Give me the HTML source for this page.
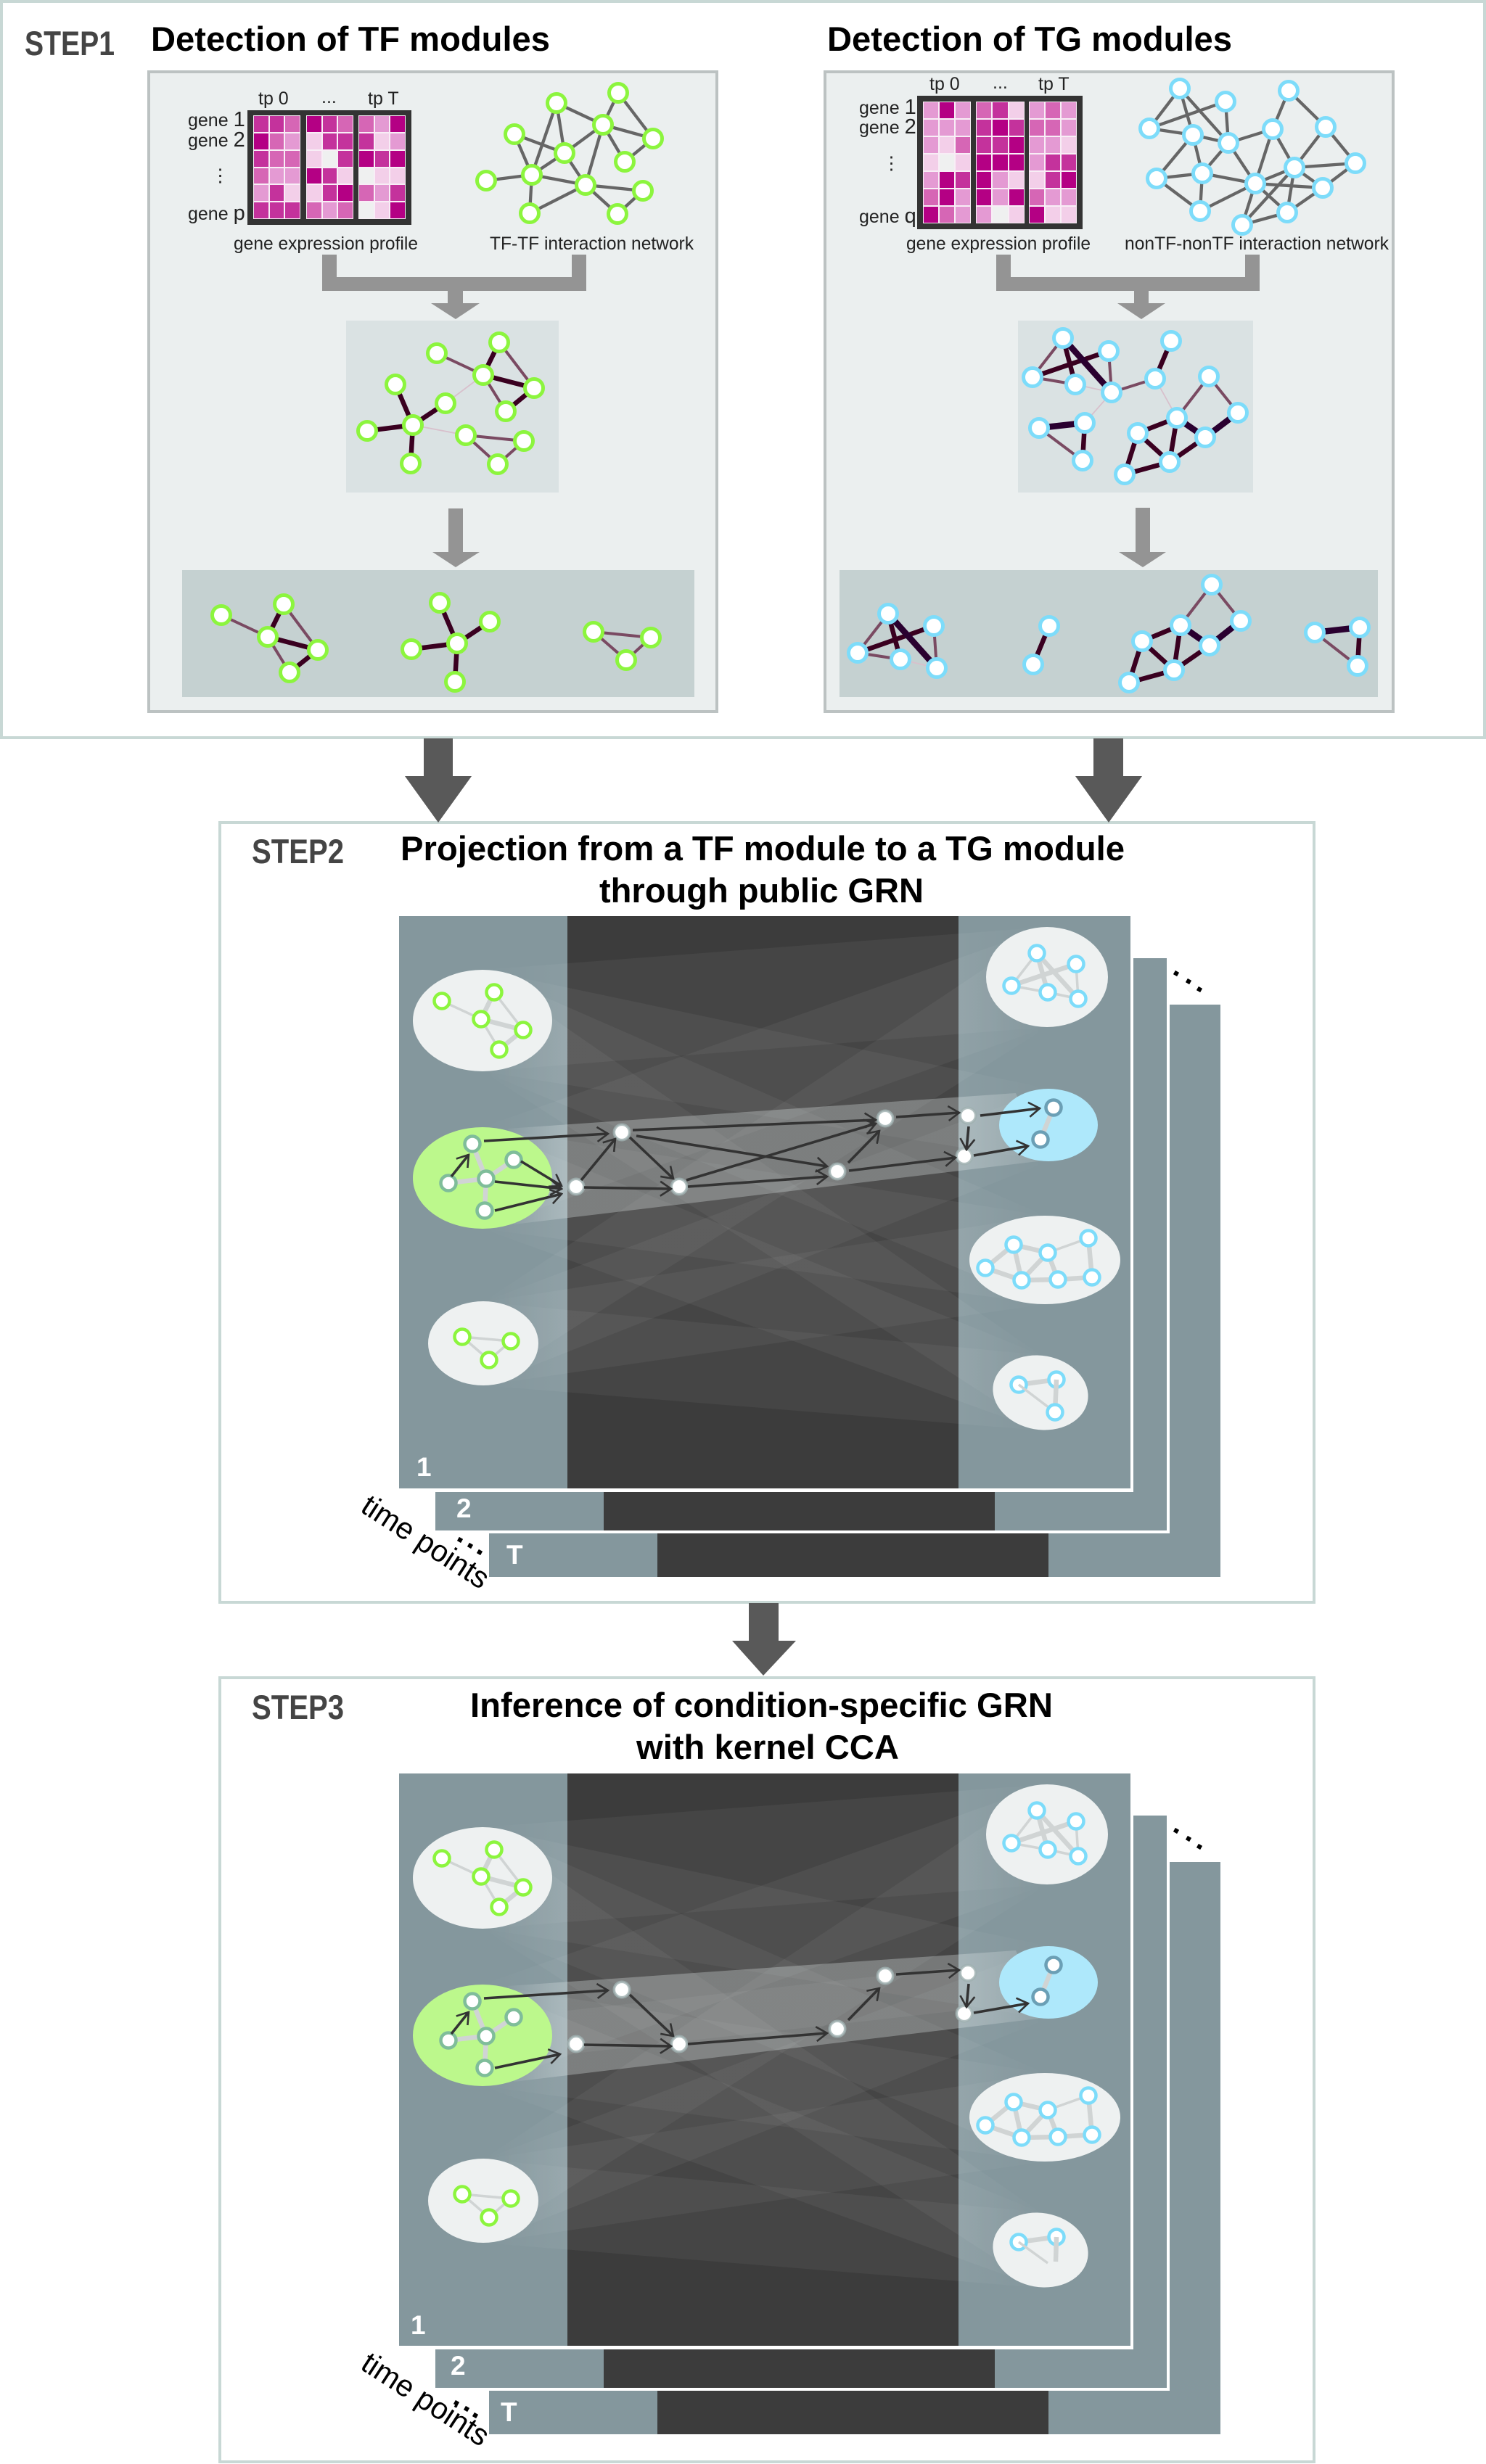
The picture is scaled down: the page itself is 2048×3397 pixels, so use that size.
<!DOCTYPE html>
<html><head><meta charset="utf-8"><title>GRN inference workflow</title>
<style>
html,body{margin:0;padding:0;background:#fff}
#w{position:relative;width:2048px;height:3397px;overflow:hidden;background:#fff}
svg{position:absolute;left:0;top:0}
text{font-family:"Liberation Sans",sans-serif;fill:#000}
.t{font-weight:700;font-size:47px}
.s{font-weight:700;font-size:47px;fill:#444}
.n{font-size:25px;fill:#222}
.w{font-weight:700;font-size:37px;fill:#fff}
.e{fill:none;stroke:#666;stroke-width:4.3}
.k{fill:none;stroke:#3a0020;stroke-width:6.5}
.v{fill:none;stroke:#2a0030;stroke-width:8.5}
.m{fill:none;stroke:#7a4a62;stroke-width:4}
.h{fill:none;stroke:#d8c0cc;stroke-width:1.8}
.gy{fill:none;stroke:#d0d4d4;stroke-width:3.5}
.gt{fill:none;stroke:#d0d4d4;stroke-width:6.5}
.g{r:12.5px;fill:#fff;stroke:#8cf53e;stroke-width:5}
.b{r:12.5px;fill:#fff;stroke:#7ddcfa;stroke-width:5}
.g2{r:10.5px;fill:#fff;stroke:#8cf53e;stroke-width:4.5}
.b2{r:10.5px;fill:#fff;stroke:#7ddcfa;stroke-width:4.5}
.q{r:10.5px;fill:#fff;stroke:#7fbd9a;stroke-width:4.5}
.r{r:10.5px;fill:#fff;stroke:#6b9fb5;stroke-width:4.5}
.p{r:10.7px;fill:#fff;stroke:#9fb0b0;stroke-width:3.6;stroke-opacity:.8}
.a{stroke:#333;stroke-width:3.6;fill:none;marker-end:url(#ar)}
.d{fill:#000}
.hm{position:absolute;display:grid;grid-template-columns:repeat(3,1fr)}
.hm i{display:block;box-sizing:border-box;border:.5px solid #f8eef6}
.A{background:#b40084}.B{background:#c4329c}.C{background:#d666b5}.D{background:#e49ad3}.E{background:#f3cfe9}.F{background:#eff0f0}
</style></head><body><div id="w">
<svg width="2048" height="3397" viewBox="0 0 2048 3397" xmlns="http://www.w3.org/2000/svg">
<defs>
<marker id="ar" viewBox="-18 -12 20 24" refX="0" refY="0" markerWidth="20" markerHeight="24" orient="auto" markerUnits="userSpaceOnUse"><path d="M-15 -10L0 0L-15 10" fill="none" stroke="#333" stroke-width="2.6"/></marker>
<linearGradient id="bg" gradientUnits="userSpaceOnUse" x1="665" y1="0" x2="1443" y2="0"><stop offset="0" stop-color="#fff" stop-opacity="0"/><stop offset=".15" stop-color="#fff" stop-opacity=".047"/><stop offset=".85" stop-color="#fff" stop-opacity=".047"/><stop offset="1" stop-color="#fff" stop-opacity="0"/></linearGradient>
<linearGradient id="bm" gradientUnits="userSpaceOnUse" x1="690" y1="0" x2="1440" y2="0"><stop offset="0" stop-color="#fff" stop-opacity="0"/><stop offset=".12" stop-color="#e8f0f0" stop-opacity=".3"/><stop offset=".85" stop-color="#e8f0f0" stop-opacity=".3"/><stop offset="1" stop-color="#fff" stop-opacity=".1"/></linearGradient>
<g id="base">
<rect x="674" y="1385" width="1008" height="789" fill="#84979d"/><rect x="906" y="1385" width="539" height="789" fill="#3c3c3c"/>
<rect x="600" y="1321" width="1012" height="793" fill="#fff"/><rect x="600" y="1321" width="1008" height="789" fill="#84979d"/><rect x="832" y="1321" width="539" height="789" fill="#3c3c3c"/>
<rect x="550" y="1263" width="1012" height="794" fill="#fff"/><rect x="550" y="1263" width="1008" height="789" fill="#84979d"/><rect x="782" y="1263" width="539" height="789" fill="#3c3c3c"/>
<g fill="url(#bg)">
<polygon points="665,1337 665,1477 1443,1416 1443,1278"/>
<polygon points="665,1337 665,1477 1445,1601 1445,1501"/>
<polygon points="665,1337 665,1477 1440,1798 1440,1676"/>
<polygon points="665,1337 665,1477 1434,1972 1434,1868"/>
<polygon points="665,1554 665,1694 1443,1416 1443,1278"/>
<polygon points="665,1554 665,1694 1440,1798 1440,1676"/>
<polygon points="665,1554 665,1694 1434,1972 1434,1868"/>
<polygon points="666,1795 666,1910 1443,1416 1443,1278"/>
<polygon points="666,1795 666,1910 1445,1601 1445,1501"/>
<polygon points="666,1795 666,1910 1440,1798 1440,1676"/>
<polygon points="666,1795 666,1910 1434,1972 1434,1868"/>
</g>
<ellipse cx="665" cy="1407" rx="96" ry="70" fill="#eef1f1"/>
<path class="gy" d="M609 1380L663 1405M681 1368L721 1420M663 1405L688 1447"/><path class="gt" d="M681 1368L663 1405M663 1405L721 1420M721 1420L688 1447"/>
<circle class="g2" cx="609" cy="1380"/><circle class="g2" cx="681" cy="1368"/><circle class="g2" cx="663" cy="1405"/><circle class="g2" cx="721" cy="1420"/><circle class="g2" cx="688" cy="1447"/>
<ellipse cx="666" cy="1852" rx="76" ry="58" fill="#eef1f1"/>
<path class="gy" d="M637 1843L704 1849M637 1843L674 1875"/><path class="gy" d="M704 1849L674 1875"/>
<circle class="g2" cx="637" cy="1843"/><circle class="g2" cx="704" cy="1849"/><circle class="g2" cx="674" cy="1875"/>
<ellipse cx="1443" cy="1347" rx="84" ry="69" fill="#eef1f1"/>
<path class="gy" d="M1429 1314L1394 1359M1483 1329L1486 1377M1444 1368L1486 1377"/><path class="gt" d="M1429 1314L1444 1368M1429 1314L1486 1377M1483 1329L1394 1359"/><path class="gy" d="M1394 1359L1444 1368"/>
<circle class="b2" cx="1429" cy="1314"/><circle class="b2" cx="1483" cy="1329"/><circle class="b2" cx="1394" cy="1359"/><circle class="b2" cx="1444" cy="1368"/><circle class="b2" cx="1486" cy="1377"/>
<ellipse cx="1440" cy="1737" rx="104" ry="61" fill="#eef1f1"/>
<path class="gt" d="M1358 1748L1397 1716M1397 1716L1444 1727M1500 1707L1505 1761M1505 1761L1458 1764M1458 1764L1408 1765M1408 1765L1358 1748M1397 1716L1408 1765M1408 1765L1444 1727M1444 1727L1458 1764"/><path class="gy" d="M1444 1727L1500 1707"/>
<circle class="b2" cx="1397" cy="1716"/><circle class="b2" cx="1444" cy="1727"/><circle class="b2" cx="1500" cy="1707"/><circle class="b2" cx="1358" cy="1748"/><circle class="b2" cx="1408" cy="1765"/><circle class="b2" cx="1458" cy="1764"/><circle class="b2" cx="1505" cy="1761"/>
<ellipse cx="1434" cy="1920" rx="66" ry="51" fill="#eef1f1" transform="rotate(10 1434 1920)"/>
<path class="gt" d="M1404 1909L1456 1902"/>
<circle class="b2" cx="1404" cy="1909"/><circle class="b2" cx="1456" cy="1902"/>
</g>
<g id="hi">
<ellipse cx="665" cy="1624" rx="96" ry="70" fill="#bcf88c"/>
<ellipse cx="1445" cy="1551" rx="68" ry="50" fill="#aee8fb"/>
<path class="gt" d="M651 1577L670 1625M618 1631L670 1625M670 1625L708 1599M670 1625L668 1669M1452 1527L1434 1571"/>
<circle class="q" cx="651" cy="1577"/><circle class="q" cx="618" cy="1631"/><circle class="q" cx="670" cy="1625"/><circle class="q" cx="708" cy="1599"/><circle class="q" cx="668" cy="1669"/>
<circle class="r" cx="1452" cy="1527"/><circle class="r" cx="1434" cy="1571"/>
</g>
<g id="pts">
<circle class="p" cx="857" cy="1561"/><circle class="p" cx="794" cy="1636"/><circle class="p" cx="936" cy="1636"/><circle class="p" cx="1220" cy="1542"/><circle class="p" cx="1154" cy="1615"/><circle class="p" cx="1334" cy="1538"/><circle class="p" cx="1329" cy="1594"/>
</g>
</defs>

<!-- STEP 1 -->
<rect x="2" y="2" width="2044" height="1015" fill="#fff" stroke="#c8d8d5" stroke-width="4"/>
<text class="s" x="34" y="76" textLength="124" lengthAdjust="spacingAndGlyphs">STEP1</text>
<text class="t" x="208" y="70" textLength="550" lengthAdjust="spacingAndGlyphs">Detection of TF modules</text>
<text class="t" x="1140" y="70" textLength="558" lengthAdjust="spacingAndGlyphs">Detection of TG modules</text>
<rect x="205" y="99" width="783" height="882" fill="#ebefef" stroke="#bcc2c2" stroke-width="4"/>
<rect x="1137" y="99" width="783" height="882" fill="#ebefef" stroke="#bcc2c2" stroke-width="4"/>

<!-- TF heat labels -->
<rect x="341" y="152" width="226" height="158" fill="#333"/>
<text class="n" x="356" y="144">tp 0</text><text class="n" x="443" y="142">...</text><text class="n" x="507" y="144">tp T</text>
<text class="n" x="259" y="174">gene <tspan font-size="29">1</tspan></text>
<text class="n" x="259" y="202">gene <tspan font-size="29">2</tspan></text>
<text class="n" x="291" y="250">⋮</text>
<text class="n" x="259" y="303">gene <tspan font-size="29">p</tspan></text>
<text class="n" x="322" y="344" textLength="254" lengthAdjust="spacingAndGlyphs">gene expression profile</text>
<text class="n" x="675" y="344" textLength="281" lengthAdjust="spacingAndGlyphs">TF-TF interaction network</text>

<path class="e" d="M767 142L831 172M767 142L778 211M767 142L733 241M852 128L831 172M852 128L900 191M831 172L900 191M831 172L778 211M831 172L861 223M831 172L807 255M900 191L861 223M709 185L778 211M709 185L733 241M778 211L733 241M778 211L807 255M670 249L733 241M733 241L807 255M733 241L730 294M807 255L730 294M807 255L886 263M807 255L851 295M886 263L851 295"/>
<g>
<circle class="g" cx="767" cy="142"/><circle class="g" cx="852" cy="128"/><circle class="g" cx="831" cy="172"/><circle class="g" cx="900" cy="191"/><circle class="g" cx="709" cy="185"/><circle class="g" cx="778" cy="211"/><circle class="g" cx="861" cy="223"/><circle class="g" cx="670" cy="249"/><circle class="g" cx="733" cy="241"/><circle class="g" cx="807" cy="255"/><circle class="g" cx="886" cy="263"/><circle class="g" cx="730" cy="294"/><circle class="g" cx="851" cy="295"/>
</g>
<path fill="#949494" d="M444 351H464V382H788V351H808V401H638V418H661L628 440L594 418H617V401H444Z"/>
<rect x="477" y="442" width="293" height="237" fill="#dae2e3"/>
<path class="h" d="M666 517L614 556M569 586L642 600"/>
<path class="m" d="M602 487L666 517M688 472L736 535M666 517L697 567M642 600L722 608M642 600L686 640M722 608L686 640"/>
<path class="k" d="M688 472L666 517M666 517L736 535M736 535L697 567M545 530L569 586M569 586L614 556M569 586L506 594M569 586L566 639"/>
<circle class="g" cx="602" cy="487"/><circle class="g" cx="688" cy="472"/><circle class="g" cx="666" cy="517"/><circle class="g" cx="736" cy="535"/><circle class="g" cx="697" cy="567"/><circle class="g" cx="614" cy="556"/><circle class="g" cx="545" cy="530"/><circle class="g" cx="569" cy="586"/><circle class="g" cx="506" cy="594"/><circle class="g" cx="566" cy="639"/><circle class="g" cx="642" cy="600"/><circle class="g" cx="722" cy="608"/><circle class="g" cx="686" cy="640"/>
<path fill="#949494" d="M618 701H638V761H661L628 782L596 761H618Z"/>
<rect x="251" y="786" width="706" height="175" fill="#c5d1d1"/>
<path class="m" d="M305 848L369 878M391 833L438 896M369 878L399 927M818 871L897 879M818 871L863 910M897 879L863 910"/>
<path class="k" d="M391 833L369 878M369 878L438 896M438 896L399 927M630 887L606 831M630 887L675 857M630 887L567 895M630 887L627 940"/>
<circle class="g" cx="305" cy="848"/><circle class="g" cx="391" cy="833"/><circle class="g" cx="369" cy="878"/><circle class="g" cx="438" cy="896"/><circle class="g" cx="399" cy="927"/>
<circle class="g" cx="630" cy="887"/><circle class="g" cx="606" cy="831"/><circle class="g" cx="675" cy="857"/><circle class="g" cx="567" cy="895"/><circle class="g" cx="627" cy="940"/>
<circle class="g" cx="818" cy="871"/><circle class="g" cx="897" cy="879"/><circle class="g" cx="863" cy="910"/>

<!-- TG side -->
<rect x="1264" y="132" width="228" height="184" fill="#333"/>
<text class="n" x="1281" y="124">tp 0</text><text class="n" x="1368" y="122">...</text><text class="n" x="1431" y="124">tp T</text>
<text class="n" x="1184" y="157">gene <tspan font-size="29">1</tspan></text>
<text class="n" x="1184" y="184">gene <tspan font-size="29">2</tspan></text>
<text class="n" x="1216" y="233">⋮</text>
<text class="n" x="1184" y="307">gene <tspan font-size="29">q</tspan></text>
<text class="n" x="1249" y="344" textLength="254" lengthAdjust="spacingAndGlyphs">gene expression profile</text>
<text class="n" x="1550" y="344" textLength="364" lengthAdjust="spacingAndGlyphs">nonTF-nonTF interaction network</text>

<path class="e" d="M1626 122L1584 177M1626 122L1644 186M1626 122L1693 197M1689 140L1584 177M1689 140L1693 197M1776 125L1754 178M1776 125L1827 175M1584 177L1644 186M1644 186L1693 197M1644 186L1594 246M1644 186L1657 239M1693 197L1754 178M1693 197L1657 239M1693 197L1730 253M1754 178L1784 231M1754 178L1730 253M1827 175L1784 231M1827 175L1868 225M1868 225L1784 231M1868 225L1823 259M1784 231L1730 253M1784 231L1774 293M1784 231L1712 310M1594 246L1657 239M1594 246L1654 291M1657 239L1730 253M1657 239L1654 291M1730 253L1654 291M1730 253L1823 259M1730 253L1774 293M1730 253L1712 310M1823 259L1774 293M1774 293L1712 310M1784 231L1823 259"/>
<circle class="b" cx="1626" cy="122"/><circle class="b" cx="1689" cy="140"/><circle class="b" cx="1776" cy="125"/><circle class="b" cx="1584" cy="177"/><circle class="b" cx="1644" cy="186"/><circle class="b" cx="1693" cy="197"/><circle class="b" cx="1754" cy="178"/><circle class="b" cx="1827" cy="175"/><circle class="b" cx="1868" cy="225"/><circle class="b" cx="1784" cy="231"/><circle class="b" cx="1594" cy="246"/><circle class="b" cx="1657" cy="239"/><circle class="b" cx="1730" cy="253"/><circle class="b" cx="1823" cy="259"/><circle class="b" cx="1654" cy="291"/><circle class="b" cx="1774" cy="293"/><circle class="b" cx="1712" cy="310"/>
<path fill="#949494" d="M1373 351H1393V382H1716V351H1736V401H1583V418H1606L1573 440L1540 418H1563V401H1373Z"/>
<rect x="1403" y="442" width="324" height="237" fill="#dae2e3"/>
<path class="h" d="M1482 530L1532 541M1532 541L1495 583M1592 522L1622 576"/>
<path class="m" d="M1465 466L1423 520M1423 520L1482 530M1528 484L1532 541M1532 541L1592 522M1666 519L1622 576M1666 519L1706 569M1432 590L1492 635"/>
<path class="k" d="M1465 466L1482 530M1423 520L1528 484M1614 470L1592 522M1622 576L1568 597M1622 576L1612 637M1568 597L1612 637M1568 597L1550 654M1661 603L1612 637M1612 637L1550 654M1495 583L1492 635"/>
<path class="v" d="M1465 466L1532 541M1706 569L1661 603M1622 576L1661 603M1495 583L1432 590"/>
<circle class="b" cx="1465" cy="466"/><circle class="b" cx="1528" cy="484"/><circle class="b" cx="1423" cy="520"/><circle class="b" cx="1482" cy="530"/><circle class="b" cx="1532" cy="541"/><circle class="b" cx="1614" cy="470"/><circle class="b" cx="1592" cy="522"/><circle class="b" cx="1666" cy="519"/><circle class="b" cx="1706" cy="569"/><circle class="b" cx="1622" cy="576"/><circle class="b" cx="1495" cy="583"/><circle class="b" cx="1432" cy="590"/><circle class="b" cx="1492" cy="635"/><circle class="b" cx="1568" cy="597"/><circle class="b" cx="1661" cy="603"/><circle class="b" cx="1612" cy="637"/><circle class="b" cx="1550" cy="654"/>
<path fill="#949494" d="M1565 700H1585V761H1607L1575 782L1542 761H1565Z"/>
<rect x="1157" y="786" width="742" height="175" fill="#c5d1d1"/>
<path class="h" d="M1241 909L1291 921"/>
<path class="m" d="M1224 846L1182 900M1182 900L1241 909M1287 863L1291 921M1670 806L1627 862M1670 806L1710 856M1812 872L1871 918"/>
<path class="k" d="M1224 846L1241 909M1182 900L1287 863M1446 863L1424 916M1627 862L1574 884M1627 862L1618 924M1574 884L1618 924M1574 884L1556 941M1667 890L1618 924M1618 924L1556 941M1874 865L1871 918"/>
<path class="v" d="M1224 846L1291 921M1710 856L1667 890M1627 862L1667 890M1874 865L1812 872"/>
<circle class="b" cx="1224" cy="846"/><circle class="b" cx="1287" cy="863"/><circle class="b" cx="1182" cy="900"/><circle class="b" cx="1241" cy="909"/><circle class="b" cx="1291" cy="921"/>
<circle class="b" cx="1446" cy="863"/><circle class="b" cx="1424" cy="916"/>
<circle class="b" cx="1670" cy="806"/><circle class="b" cx="1710" cy="856"/><circle class="b" cx="1627" cy="862"/><circle class="b" cx="1667" cy="890"/><circle class="b" cx="1574" cy="884"/><circle class="b" cx="1618" cy="924"/><circle class="b" cx="1556" cy="941"/>
<circle class="b" cx="1874" cy="865"/><circle class="b" cx="1812" cy="872"/><circle class="b" cx="1871" cy="918"/>

<!-- STEP 2 -->
<rect x="303" y="1134" width="1508" height="1075" fill="#fff" stroke="#c8d8d5" stroke-width="4"/>
<path fill="#595959" d="M584 1018H624V1070H650L604 1134L558 1070H584Z"/>
<path fill="#595959" d="M1507 1018H1548V1070H1574L1528 1134L1482 1070H1507Z"/>
<text class="s" x="347" y="1190" textLength="127" lengthAdjust="spacingAndGlyphs">STEP2</text>
<text class="t" x="552" y="1186" textLength="998" lengthAdjust="spacingAndGlyphs">Projection from a TF module to a TG module</text>
<text class="t" x="826" y="1244" textLength="447" lengthAdjust="spacingAndGlyphs">through public GRN</text>
<use href="#base"/>
<path class="gy" d="M1404 1909L1454 1947"/><path class="gt" d="M1456 1902L1454 1947"/><circle class="b2" cx="1454" cy="1947"/>
<polygon points="700,1556 1400,1507 1439,1600 708,1688" fill="url(#bm)"/>
<use href="#hi"/>
<use href="#pts"/>
<line class="a" x1="622" y1="1622" x2="646" y2="1592"/>
<line class="a" x1="667" y1="1573" x2="838" y2="1563"/>
<line class="a" x1="718" y1="1601" x2="774" y2="1635"/>
<line class="a" x1="682" y1="1629" x2="774" y2="1639"/>
<line class="a" x1="682" y1="1669" x2="774" y2="1646"/>
<line class="a" x1="801" y1="1627" x2="848" y2="1570"/>
<line class="a" x1="805" y1="1637" x2="925" y2="1639"/>
<line class="a" x1="868" y1="1568" x2="928" y2="1625"/>
<line class="a" x1="872" y1="1558" x2="1207" y2="1544"/>
<line class="a" x1="877" y1="1566" x2="1140" y2="1608"/>
<line class="a" x1="946" y1="1627" x2="1207" y2="1549"/>
<line class="a" x1="948" y1="1636" x2="1140" y2="1622"/>
<line class="a" x1="1169" y1="1603" x2="1212" y2="1559"/>
<line class="a" x1="1235" y1="1540" x2="1322" y2="1534"/>
<line class="a" x1="1170" y1="1614" x2="1317" y2="1596"/>
<line class="a" x1="1335" y1="1553" x2="1332" y2="1585"/>
<line class="a" x1="1351" y1="1538" x2="1433" y2="1528"/>
<line class="a" x1="1342" y1="1593" x2="1417" y2="1580"/>
<text class="w" x="574" y="2035">1</text><text class="w" x="629" y="2092">2</text><text class="w" x="698" y="2156">T</text>
<text font-size="42" transform="translate(495 2083) rotate(33)" textLength="200" lengthAdjust="spacingAndGlyphs">time points</text>
<g class="d"><rect x="631" y="2120" width="6" height="6" transform="rotate(30 634 2123)"/><rect x="645" y="2128" width="6" height="6" transform="rotate(30 648 2131)"/><rect x="658" y="2137" width="6" height="6" transform="rotate(30 661 2140)"/>
<rect x="1618" y="1339" width="6" height="6" transform="rotate(30 1621 1342)"/><rect x="1635" y="1350" width="6" height="6" transform="rotate(30 1638 1353)"/><rect x="1650" y="1361" width="6" height="6" transform="rotate(30 1653 1364)"/></g>

<!-- STEP 3 -->
<rect x="303" y="2313" width="1508" height="1081" fill="#fff" stroke="#c8d8d5" stroke-width="4"/>
<path fill="#595959" d="M1032 2210H1073V2262H1097L1052 2310L1009 2262H1032Z"/>
<text class="s" x="347" y="2370" textLength="127" lengthAdjust="spacingAndGlyphs">STEP3</text>
<text class="t" x="648" y="2367" textLength="803" lengthAdjust="spacingAndGlyphs">Inference of condition-specific GRN</text>
<text class="t" x="877" y="2425" textLength="362" lengthAdjust="spacingAndGlyphs">with kernel CCA</text>
<g transform="translate(0 1182)">
<use href="#base"/>
<path class="gy" d="M1404 1909L1444 1938"/><path class="gt" d="M1456 1902L1455 1936"/>
<polygon points="700,1556 1400,1507 1439,1600 708,1688" fill="url(#bm)"/>
<polygon points="782,1590 1321,1530 1321,1590 782,1650" fill="#fff" opacity=".05"/>
<use href="#hi"/>
<use href="#pts"/>
<line class="a" x1="622" y1="1622" x2="646" y2="1592"/>
<line class="a" x1="667" y1="1573" x2="838" y2="1562"/>
<line class="a" x1="682" y1="1669" x2="772" y2="1650"/>
<line class="a" x1="805" y1="1637" x2="925" y2="1639"/>
<line class="a" x1="868" y1="1568" x2="928" y2="1625"/>
<line class="a" x1="948" y1="1636" x2="1140" y2="1621"/>
<line class="a" x1="1169" y1="1603" x2="1212" y2="1559"/>
<line class="a" x1="1235" y1="1540" x2="1322" y2="1534"/>
<line class="a" x1="1335" y1="1553" x2="1332" y2="1585"/>
<line class="a" x1="1342" y1="1593" x2="1417" y2="1580"/>
<g class="d"><rect x="1618" y="1339" width="6" height="6" transform="rotate(30 1621 1342)"/><rect x="1635" y="1350" width="6" height="6" transform="rotate(30 1638 1353)"/><rect x="1650" y="1361" width="6" height="6" transform="rotate(30 1653 1364)"/></g>
</g>
<text class="w" x="566" y="3218">1</text><text class="w" x="621" y="3274">2</text><text class="w" x="690" y="3338">T</text>
<text font-size="42" transform="translate(495 3265) rotate(33)" textLength="200" lengthAdjust="spacingAndGlyphs">time points</text>
<g class="d"><rect x="626" y="3310" width="6" height="6" transform="rotate(30 629 3313)"/><rect x="640" y="3318" width="6" height="6" transform="rotate(30 643 3321)"/><rect x="652" y="3327" width="6" height="6" transform="rotate(30 655 3330)"/></g>
</svg>

<!-- TF heatmap -->
<div class="hm" style="left:349px;top:159px;width:65px;height:143px;grid-template-rows:repeat(6,1fr)"><i class="B"></i><i class="B"></i><i class="C"></i><i class="A"></i><i class="C"></i><i class="D"></i><i class="B"></i><i class="C"></i><i class="C"></i><i class="C"></i><i class="D"></i><i class="D"></i><i class="D"></i><i class="B"></i><i class="E"></i><i class="B"></i><i class="B"></i><i class="B"></i></div>
<div class="hm" style="left:422px;top:159px;width:65px;height:143px;grid-template-rows:repeat(6,1fr)"><i class="A"></i><i class="B"></i><i class="C"></i><i class="E"></i><i class="B"></i><i class="B"></i><i class="E"></i><i class="F"></i><i class="B"></i><i class="A"></i><i class="B"></i><i class="E"></i><i class="E"></i><i class="B"></i><i class="A"></i><i class="C"></i><i class="D"></i><i class="C"></i></div>
<div class="hm" style="left:494px;top:159px;width:65px;height:143px;grid-template-rows:repeat(6,1fr)"><i class="C"></i><i class="D"></i><i class="A"></i><i class="B"></i><i class="E"></i><i class="D"></i><i class="A"></i><i class="B"></i><i class="A"></i><i class="F"></i><i class="E"></i><i class="E"></i><i class="C"></i><i class="D"></i><i class="B"></i><i class="F"></i><i class="E"></i><i class="A"></i></div>
<!-- TG heatmap -->
<div class="hm" style="left:1272px;top:140px;width:66px;height:168px;grid-template-rows:repeat(7,1fr)"><i class="D"></i><i class="A"></i><i class="D"></i><i class="D"></i><i class="D"></i><i class="D"></i><i class="D"></i><i class="E"></i><i class="C"></i><i class="E"></i><i class="F"></i><i class="E"></i><i class="D"></i><i class="A"></i><i class="B"></i><i class="C"></i><i class="A"></i><i class="D"></i><i class="A"></i><i class="C"></i><i class="D"></i></div>
<div class="hm" style="left:1345px;top:140px;width:67px;height:168px;grid-template-rows:repeat(7,1fr)"><i class="C"></i><i class="B"></i><i class="E"></i><i class="B"></i><i class="A"></i><i class="B"></i><i class="B"></i><i class="B"></i><i class="A"></i><i class="A"></i><i class="A"></i><i class="A"></i><i class="A"></i><i class="D"></i><i class="E"></i><i class="A"></i><i class="D"></i><i class="A"></i><i class="D"></i><i class="F"></i><i class="E"></i></div>
<div class="hm" style="left:1418px;top:140px;width:66px;height:168px;grid-template-rows:repeat(7,1fr)"><i class="D"></i><i class="C"></i><i class="D"></i><i class="C"></i><i class="C"></i><i class="D"></i><i class="D"></i><i class="D"></i><i class="E"></i><i class="D"></i><i class="B"></i><i class="B"></i><i class="E"></i><i class="B"></i><i class="A"></i><i class="C"></i><i class="D"></i><i class="D"></i><i class="A"></i><i class="E"></i><i class="E"></i></div>
</div></body></html>
